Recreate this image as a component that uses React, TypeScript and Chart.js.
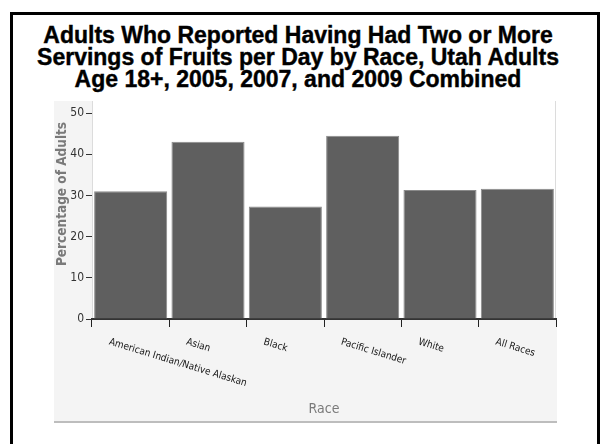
import React, { useEffect, useRef } from "react";
import { Chart, registerables } from "chart.js";

Chart.register(...registerables);

const titleLines = [
  "Adults Who Reported Having Had Two or More",
  "Servings of Fruits per Day by Race, Utah Adults",
  "Age 18+, 2005, 2007, and 2009 Combined",
];
const categories = [
  "American Indian/Native Alaskan",
  "Asian",
  "Black",
  "Pacific Islander",
  "White",
  "All Races",
];
const values = [31.0, 43.0, 27.3, 44.5, 31.3, 31.6];
const yTicks = [0, 10, 20, 30, 40, 50];
const xTitle = "Race";
const yTitle = "Percentage of Adults";

const AXIS_FONT = "'DejaVu Sans Condensed', 'DejaVu Sans', sans-serif";

const decorPlugin = {
  id: "decor",
  beforeDraw(chart: any) {
    const { ctx, chartArea, width } = chart;
    ctx.save();
    ctx.fillStyle = "#ffffff";
    ctx.fillRect(chartArea.left, 0, width - chartArea.left, chartArea.bottom);
    ctx.strokeStyle = "#dcdcdc";
    ctx.lineWidth = 1;
    ctx.beginPath();
    ctx.moveTo(chartArea.left + 0.5, 0);
    ctx.lineTo(chartArea.left + 0.5, chartArea.bottom);
    ctx.moveTo(width - 1.5, 0);
    ctx.lineTo(width - 1.5, chartArea.bottom);
    ctx.stroke();
    ctx.restore();
  },
  afterDraw(chart: any) {
    const { ctx, chartArea } = chart;
    const xs = chart.scales.x;
    ctx.save();
    ctx.fillStyle = "#151515";
    ctx.font = "10px " + AXIS_FONT;
    ctx.textAlign = "left";
    ctx.textBaseline = "top";
    const ang = (17 * Math.PI) / 180;
    categories.forEach((c, i) => {
      const cx = xs.getPixelForValue(i);
      ctx.save();
      ctx.translate(cx - 20, chartArea.bottom + 18);
      ctx.rotate(ang);
      ctx.fillText(c, 0, 0);
      ctx.restore();
    });
    ctx.fillStyle = "#7a7a7a";
    ctx.font = "14px " + AXIS_FONT;
    ctx.textAlign = "center";
    ctx.textBaseline = "middle";
    ctx.fillText(xTitle, (chartArea.left + chartArea.right) / 2, chartArea.bottom + 90);
    ctx.font = "bold 13.5px " + AXIS_FONT;
    ctx.save();
    ctx.translate(8, 93);
    ctx.rotate(-Math.PI / 2);
    ctx.fillText(yTitle, 0, 0);
    ctx.restore();
    ctx.restore();
  },
};

export default function App() {
  const ref = useRef<HTMLCanvasElement | null>(null);
  useEffect(() => {
    if (!ref.current) return;
    const chart = new Chart(ref.current, {
      type: "bar",
      data: {
        labels: categories,
        datasets: [
          {
            data: values,
            backgroundColor: "#5f5f5f",
            borderColor: "#8a8a8a",
            borderWidth: 1,
            categoryPercentage: 1,
            barPercentage: 0.945,
          },
        ],
      },
      options: {
        responsive: false,
        animation: false,
        layout: { padding: { top: 12, right: 1, left: 0, bottom: 0 } },
        plugins: {
          legend: { display: false },
          tooltip: { enabled: false },
          title: { display: false },
        },
        scales: {
          x: {
            type: "category",
            offset: true,
            grid: {
              offset: true,
              drawOnChartArea: false,
              drawTicks: true,
              tickLength: 8,
              color: "#222",
              lineWidth: 1,
            },
            border: { display: true, color: "#333", width: 2 },
            ticks: { display: false },
            afterFit: (s: any) => {
              s.height = 102;
            },
          },
          y: {
            min: 0,
            max: 50,
            afterBuildTicks: (s: any) => {
              s.ticks = yTicks.map((v) => ({ value: v }));
            },
            grid: {
              drawOnChartArea: false,
              drawTicks: true,
              tickLength: 6,
              color: "#333",
            },
            border: { display: false },
            ticks: {
              color: "#333",
              padding: 2,
              font: { size: 12, family: AXIS_FONT },
            },
            afterFit: (s: any) => {
              s.width = 38;
            },
          },
        },
      },
      plugins: [decorPlugin],
    });
    return () => chart.destroy();
  }, []);

  return (
    <div
      style={{
        position: "fixed",
        left: 0,
        top: 0,
        width: 600,
        height: 444,
        overflow: "hidden",
        background: "#fff",
      }}
    >
      <div
        style={{
          position: "absolute",
          left: 10,
          top: 12,
          width: 590,
          height: 500,
          border: "3px solid #000",
          boxSizing: "border-box",
        }}
      />
      <div
        style={{
          position: "absolute",
          left: -2,
          top: 24,
          width: 600,
          textAlign: "center",
          font: "bold 23px 'Liberation Sans', Arial, sans-serif",
          lineHeight: "22px",
          color: "#000",
          WebkitTextStroke: "0.4px #000",
        }}
      >
        {titleLines.map((l, i) => (
          <div key={i}>{l}</div>
        ))}
      </div>
      <div
        style={{
          position: "absolute",
          left: 54,
          top: 101,
          width: 503,
          height: 320,
          background: "#f4f4f4",
          borderBottom: "2px solid #bdbdbd",
        }}
      >
        <canvas ref={ref} width={503} height={320} style={{ display: "block" }} />
      </div>
    </div>
  );
}
